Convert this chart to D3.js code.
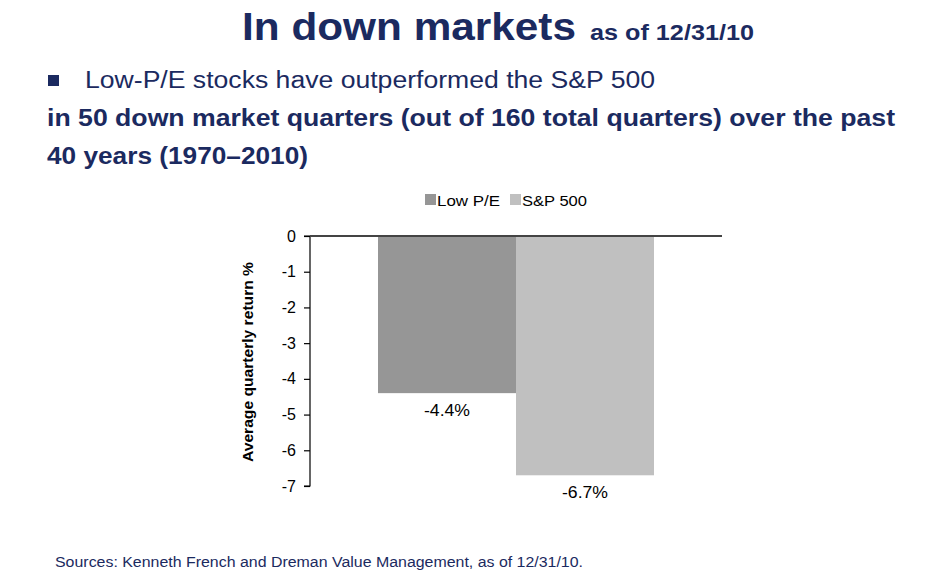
<!DOCTYPE html>
<html><head><meta charset="utf-8">
<script src="https://cdn.jsdelivr.net/npm/d3@7"></script>
<style>body{margin:0;background:#fff;} svg{display:block;}</style>
</head><body>
<svg id="chart" width="952" height="575"></svg>
<script>
const categories = ["Low P/E", "S&P 500"];
const values = [-4.4, -6.7];
const valueLabels = ["-4.4%", "-6.7%"];
const barColors = ["#969696", "#c0c0c0"];
const yTicks = [0, -1, -2, -3, -4, -5, -6, -7];
const titleMain = "In down markets";
const titleSub = "as of 12/31/10";
const bulletText = "Low-P/E stocks have outperformed the S&P 500";
const boldLines = ["in 50 down market quarters (out of 160 total quarters) over the past", "40 years (1970\u20132010)"];
const yTitle = "Average quarterly return %";
const sourceText = "Sources: Kenneth French and Dreman Value Management, as of 12/31/10.";

const svg = d3.select("#chart");
const navy = "#1b2a60";
const font = "Arial, 'Liberation Sans', sans-serif";

function txt(x, y, s, size, opts = {}) {
  const e = svg.append("text").attr("x", x).attr("y", y).attr("font-family", font)
    .attr("font-size", size).attr("fill", opts.fill || "#000").text(s);
  if (opts.bold) e.attr("font-weight", "bold");
  if (opts.len) e.attr("textLength", opts.len).attr("lengthAdjust", "spacingAndGlyphs");
  if (opts.anchor) e.attr("text-anchor", opts.anchor);
  return e;
}

// Title
txt(242, 40, titleMain, 39, {fill: navy, bold: true, len: 334});
txt(590, 40, titleSub, 22, {fill: navy, bold: true, len: 164});

// Bullet
svg.append("rect").attr("x", 48).attr("y", 75).attr("width", 11).attr("height", 11).attr("fill", navy);
txt(85, 88, bulletText, 23, {fill: navy, len: 570});
const boldLens = [848, 261];
boldLines.forEach((l, i) => txt(47, 126 + i * 38, l, 23, {fill: navy, bold: true, len: boldLens[i]}));

// Chart
const y = d3.scaleLinear().domain([0, -7]).range([236, 486]);
const x = d3.scaleBand().domain(categories).range([378, 654]).paddingInner(0);

// Legend
const legX = [425, 510];
const legLens = [63, 65];
categories.forEach((c, i) => {
  svg.append("rect").attr("x", legX[i]).attr("y", 194).attr("width", 11).attr("height", 11).attr("fill", barColors[i]);
  txt(legX[i] + 12, 206, c, 15, {len: legLens[i]});
});

// Bars
svg.selectAll("rect.bar").data(values).enter().append("rect").attr("class", "bar")
  .attr("x", (d, i) => x(categories[i])).attr("width", x.bandwidth())
  .attr("y", y(0)).attr("height", d => y(d) - y(0))
  .attr("fill", (d, i) => barColors[i]);

// Value labels
values.forEach((d, i) => {
  txt(x(categories[i]) + x.bandwidth() / 2, y(d) + 23, valueLabels[i], 16, {anchor: "middle", len: 46});
});

// Y axis
const ax = svg.append("g").attr("transform", "translate(310,0)")
  .call(d3.axisLeft(y).tickValues(yTicks).tickSize(6).tickPadding(8).tickFormat(d => String(d)));
ax.select(".domain").attr("stroke", "#000").attr("stroke-width", 1.2).attr("d", "M-6," + y(0) + "H0V" + y(-7) + "H-6");
ax.selectAll(".tick line").attr("stroke", "#000").attr("stroke-width", 1.2);
ax.selectAll(".tick text").attr("font-family", font).attr("font-size", 16).attr("fill", "#000");

// Zero line
svg.append("line").attr("x1", 310).attr("x2", 722).attr("y1", y(0)).attr("y2", y(0))
  .attr("stroke", "#444").attr("stroke-width", 2);

// Y title
svg.append("text").attr("transform", "translate(253,362) rotate(-90)").attr("text-anchor", "middle")
  .attr("font-family", font).attr("font-size", 15).attr("font-weight", "bold").attr("fill", "#000")
  .attr("textLength", 200).attr("lengthAdjust", "spacingAndGlyphs").text(yTitle);

// Source
txt(55, 567, sourceText, 14, {fill: navy, len: 528});
</script>
</body></html>
